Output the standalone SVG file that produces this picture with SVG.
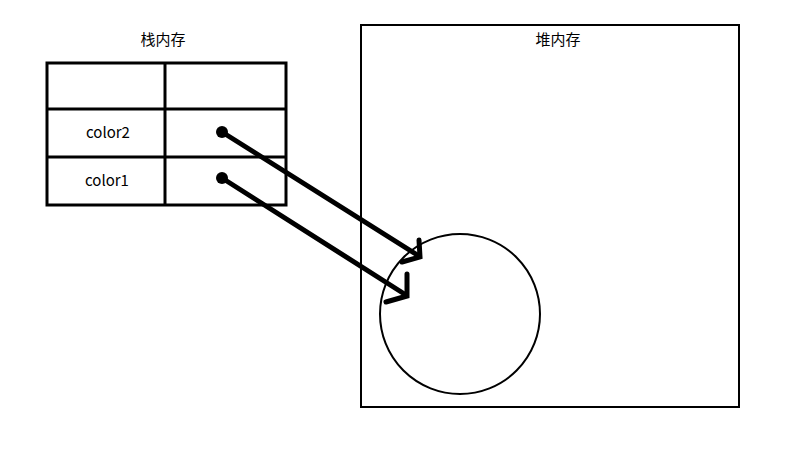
<svg xmlns="http://www.w3.org/2000/svg" width="800" height="457" viewBox="0 0 800 457">
<style>
.t{font-family:"Noto Sans CJK SC","Noto Sans",sans-serif;font-size:15px;fill:#000;text-anchor:middle}
.cell{fill:none;stroke:#000;stroke-width:3}
.arr{fill:none;stroke:#000;stroke-width:5;stroke-linecap:round;stroke-linejoin:miter}
</style>
<rect width="800" height="457" fill="#fff"/>
<g id="stack">
<text class="t" x="163" y="45">栈内存</text>
<rect class="cell" x="47" y="63" width="239" height="142"/>
<line class="cell" x1="165" y1="63" x2="165" y2="205"/>
<line class="cell" x1="47" y1="109" x2="286" y2="109"/>
<line class="cell" x1="47" y1="157" x2="286" y2="157"/>
<text class="t" x="108" y="138">color2</text>
<text class="t" x="107" y="186">color1</text>
</g>
<g id="heap">
<rect x="361" y="25" width="378" height="382" fill="none" stroke="#000" stroke-width="2"/>
<text class="t" x="558" y="45">堆内存</text>
<circle cx="460" cy="314" r="80" fill="none" stroke="#000" stroke-width="2"/>
</g>
<g id="connectors">
<circle cx="222" cy="132" r="6"/>
<line class="arr" x1="222" y1="132" x2="419" y2="256"/>
<polyline class="arr" points="419,240 420,257 402,262"/>
<circle cx="222" cy="178" r="6"/>
<line class="arr" x1="222" y1="178" x2="406" y2="295"/>
<polyline class="arr" points="407,274 407,296 386,302"/>
</g>
</svg>
